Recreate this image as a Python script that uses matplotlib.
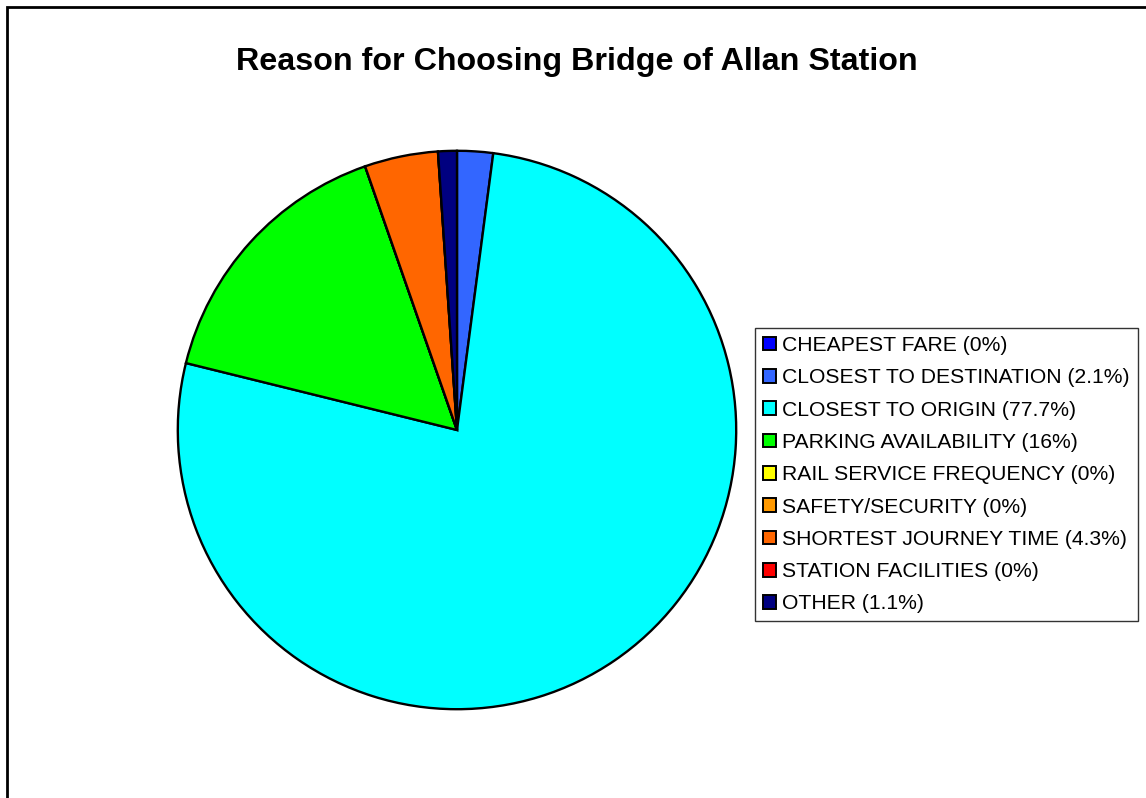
import matplotlib
matplotlib.use("Agg")
import matplotlib.pyplot as plt
from matplotlib.patches import Patch, Rectangle

categories = [
    "CHEAPEST FARE",
    "CLOSEST TO DESTINATION",
    "CLOSEST TO ORIGIN",
    "PARKING AVAILABILITY",
    "RAIL SERVICE FREQUENCY",
    "SAFETY/SECURITY",
    "SHORTEST JOURNEY TIME",
    "STATION FACILITIES",
    "OTHER",
]
percent_labels = ["0%", "2.1%", "77.7%", "16%", "0%", "0%", "4.3%", "0%", "1.1%"]
values = [0, 2.1, 77.7, 16, 0, 0, 4.3, 0, 1.1]
colors = ["#0000FF", "#3366FF", "#00FFFF", "#00FF00", "#FFFF00",
          "#FF9900", "#FF6600", "#FF0000", "#000080"]
title = "Reason for Choosing Bridge of Allan Station"

plt.rcParams["font.family"] = ["Liberation Sans", "DejaVu Sans"]

W, H = 1146, 798
fig = plt.figure(figsize=(W / 100, H / 100), dpi=100)

# outer chart frame (runs off the right and bottom edges)
fig.patches.append(Rectangle((7 / W, -0.1), 1.2, 1 - 7.5 / H + 0.1,
                             transform=fig.transFigure, fill=False,
                             edgecolor="black", linewidth=2))

fig.text(577 / W, 1 - 62 / H, title, ha="center", va="center",
         fontsize=23.2, fontweight="bold")

cx, cy, r = 457, 430, 282
ax = fig.add_axes([(cx - r) / W, 1 - (cy + r) / H, 2 * r / W, 2 * r / H])
ax.pie(values, colors=colors, startangle=90, counterclock=False,
       wedgeprops=dict(edgecolor="black", linewidth=1.7), radius=1)
ax.set_xlim(-1.01, 1.01)
ax.set_ylim(-1.01, 1.01)
ax.set_aspect("equal")
ax.axis("off")

handles = [Patch(facecolor=c, edgecolor="black", linewidth=1.4) for c in colors]
labels = [f"{c} ({p})" for c, p in zip(categories, percent_labels)]
leg = fig.legend(handles, labels, loc="upper left",
                 bbox_to_anchor=(755 / W, 1 - 328 / H),
                 frameon=True, fancybox=False, fontsize=15.2,
                 handlelength=0.62, handleheight=0.62, handletextpad=0.3,
                 labelspacing=0.63, borderpad=0.38, borderaxespad=0)
leg.get_frame().set_edgecolor("black")
leg.get_frame().set_linewidth(1.0)

fig.savefig("out.png", dpi=100)
